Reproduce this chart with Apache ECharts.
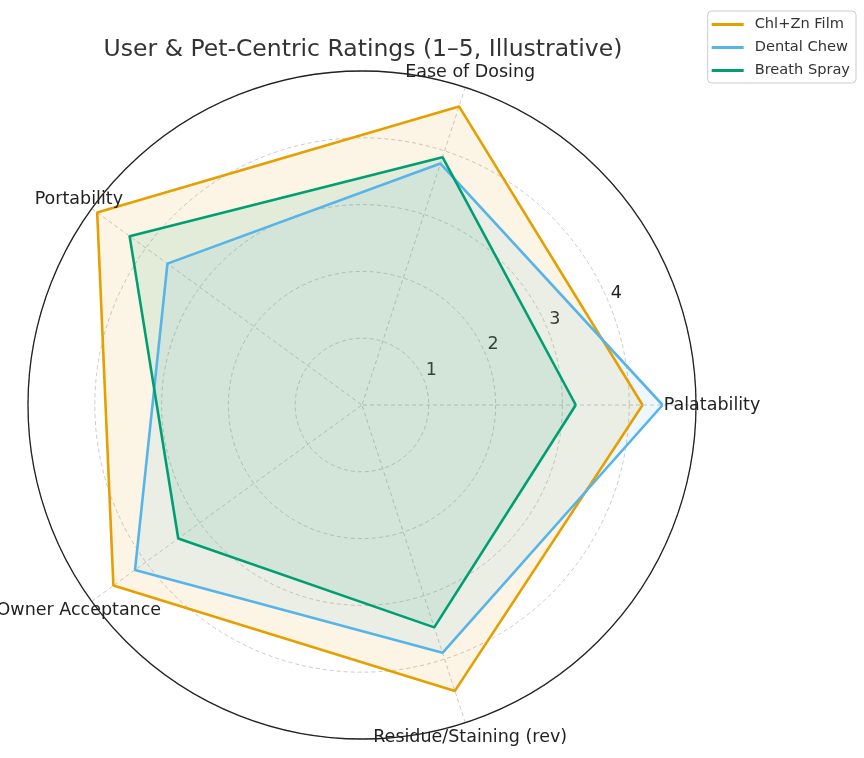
<!DOCTYPE html>
<html>
<head>
<meta charset="utf-8">
<script src="https://cdn.jsdelivr.net/npm/echarts@6/dist/echarts.min.js"></script>
<style>
  html, body { margin: 0; padding: 0; background: #fff; }
  #chart { width: 864px; height: 758px; }
</style>
</head>
<body>
<div id="chart"></div>
<script>
// Оценки 1–5 по пяти критериям
const axisNames = ['Palatability', 'Ease of Dosing', 'Portability', 'Owner Acceptance', 'Residue/Staining (rev)'];
const axisAngles = [0, 72, 144, 216, 288];
const filmValues  = [4.2, 4.7, 4.9, 4.6, 4.5];
const chewValues  = [4.5, 3.8, 3.6, 4.2, 3.9];
const sprayValues = [3.2, 3.9, 4.3, 3.4, 3.5];
const radiusTicks = [1, 2, 3, 4];

const FONT = 'DejaVu Sans, sans-serif';
const CENTER = [362, 405];
const RADIUS = 334;
const LABEL_R = 5.24; // подписи осей чуть за внешней окружностью, по центру

// замыкаем контур: первая точка ещё раз в конце (угол 360)
function closed(vals) {
  const pts = vals.map((v, i) => [v, axisAngles[i]]);
  pts.push([vals[0], 360]);
  return pts;
}

function seriesFor(name, vals, color) {
  return {
    name,
    type: 'line',
    coordinateSystem: 'polar',
    polarIndex: 0,
    data: closed(vals),
    symbol: 'none',
    smooth: false,
    lineStyle: { width: 2.6, color },
    itemStyle: { color },
    areaStyle: { color, opacity: 0.1 },
    emphasis: { disabled: true },
  };
}

const chart = echarts.init(document.getElementById('chart'), null, { renderer: 'canvas' });

chart.setOption({
  animation: false,
  backgroundColor: '#fff',
  title: {
    text: 'User & Pet-Centric Ratings (1–5, Illustrative)',
    left: 358, top: 33, textAlign: 'center',
    textStyle: { fontFamily: FONT, fontSize: 23.5, fontWeight: 'normal', color: '#333' },
  },
  legend: {
    orient: 'vertical',
    right: 8, top: 11,
    padding: [6, 6, 5, 4],
    itemGap: 8,
    itemWidth: 32, itemHeight: 3,
    icon: 'rect',
    borderColor: '#ccc', borderWidth: 1, borderRadius: 4,
    textStyle: { fontFamily: FONT, fontSize: 14.6, color: '#333', padding: [0, 0, 0, 6] },
    data: ['Chl+Zn Film', 'Dental Chew', 'Breath Spray'],
  },
  polar: [
    { center: CENTER, radius: RADIUS },
    { center: CENTER, radius: RADIUS },
  ],
  angleAxis: [
    {
      polarIndex: 0,
      type: 'value', min: 0, max: 360, interval: 72,
      startAngle: 0, clockwise: false,
      axisLine: { lineStyle: { color: '#222', width: 1.3 } },
      axisTick: { show: false },
      axisLabel: { show: false },
      splitLine: { lineStyle: { color: '#bdbdbd', type: [4, 3], width: 0.8 } },
    },
    {
      polarIndex: 1,
      type: 'value', min: 0, max: 360,
      startAngle: 22.5, clockwise: false,
      axisLine: { show: false }, axisTick: { show: false },
      axisLabel: { show: false }, splitLine: { show: false },
    },
  ],
  radiusAxis: [
    {
      polarIndex: 0,
      type: 'value', min: 0, max: 5, interval: 1,
      axisLine: { show: false }, axisTick: { show: false },
      axisLabel: { show: false },
      splitLine: { lineStyle: { color: '#bdbdbd', type: [4, 3], width: 0.8 } },
    },
    {
      polarIndex: 1,
      type: 'value', min: 0, max: 5, interval: 1,
      axisLine: { show: false }, axisTick: { show: false },
      splitLine: { show: false },
      axisLabel: {
        margin: 0,
        align: 'left', verticalAlign: 'bottom',
        padding: [0, 0, 0, 2],
        fontFamily: FONT, fontSize: 17.5, color: '#222',
        formatter: (v) => (radiusTicks.includes(v) ? String(v) : ''),
      },
    },
  ],
  series: [
    seriesFor('Chl+Zn Film', filmValues, '#E69F00'),
    seriesFor('Dental Chew', chewValues, '#56B4E9'),
    seriesFor('Breath Spray', sprayValues, '#009E73'),
    {
      name: 'axis-names',
      type: 'scatter',
      coordinateSystem: 'polar',
      polarIndex: 0,
      clip: false,
      silent: true,
      symbolSize: 0,
      itemStyle: { opacity: 1 },
      data: axisAngles.map((a) => [LABEL_R, a]),
      label: {
        show: true,
        position: 'inside',
        align: 'center', verticalAlign: 'middle',
        fontFamily: FONT, fontSize: 17.5, color: '#222',
        formatter: (p) => axisNames[p.dataIndex],
      },
      z: 5,
    },
  ],
});
</script>
</body>
</html>
